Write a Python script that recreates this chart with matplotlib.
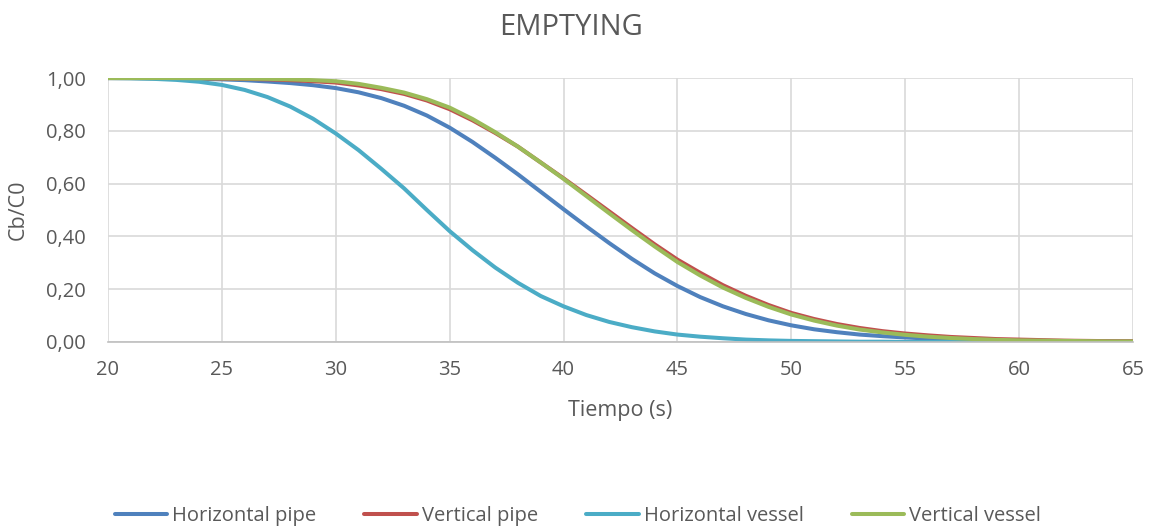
import numpy as np
import matplotlib.pyplot as plt
from matplotlib.ticker import FuncFormatter

# Cb/C0 vs time
tiempo = list(range(20, 66))

horizontal_pipe = [1.0, 1.0, 0.999, 0.998, 0.997, 0.995, 0.992, 0.987, 0.981, 0.973,
                   0.962, 0.946, 0.924, 0.895, 0.858, 0.812, 0.758, 0.698, 0.635, 0.569,
                   0.503, 0.438, 0.375, 0.315, 0.26, 0.212, 0.17, 0.135, 0.106, 0.082,
                   0.063, 0.048, 0.037, 0.028, 0.022, 0.017, 0.013, 0.01, 0.008, 0.006,
                   0.005, 0.004, 0.003, 0.002, 0.002, 0.001]

vertical_pipe = [1.0, 1.0, 1.0, 0.999, 0.999, 0.998, 0.997, 0.995, 0.992, 0.988,
                 0.983, 0.972, 0.958, 0.94, 0.915, 0.882, 0.84, 0.792, 0.74, 0.68,
                 0.62, 0.558, 0.495, 0.432, 0.37, 0.312, 0.262, 0.215, 0.175, 0.14,
                 0.11, 0.087, 0.068, 0.053, 0.041, 0.032, 0.025, 0.019, 0.015, 0.011,
                 0.009, 0.007, 0.005, 0.004, 0.003, 0.003]

horizontal_vessel = [1.0, 0.999, 0.997, 0.993, 0.986, 0.974, 0.955, 0.928, 0.892, 0.846,
                     0.79, 0.727, 0.656, 0.582, 0.50, 0.42, 0.348, 0.282, 0.224, 0.174,
                     0.135, 0.102, 0.076, 0.056, 0.04, 0.028, 0.02, 0.014, 0.009, 0.006,
                     0.004, 0.003, 0.002, 0.001, 0.001, 0.0, 0.0, 0.0, 0.0, 0.0,
                     0.0, 0.0, 0.0, 0.0, 0.0, 0.0]

vertical_vessel = [1.0, 1.0, 1.0, 1.0, 0.999, 0.999, 0.998, 0.997, 0.995, 0.992,
                   0.988, 0.978, 0.963, 0.945, 0.92, 0.888, 0.845, 0.795, 0.74, 0.68,
                   0.618, 0.553, 0.488, 0.424, 0.362, 0.303, 0.252, 0.206, 0.167, 0.133,
                   0.104, 0.081, 0.062, 0.047, 0.036, 0.027, 0.02, 0.015, 0.011, 0.008,
                   0.006, 0.005, 0.004, 0.003, 0.002, 0.002]

series = [
    ("Horizontal pipe", horizontal_pipe, "#4F81BD"),
    ("Vertical pipe", vertical_pipe, "#C0504D"),
    ("Horizontal vessel", horizontal_vessel, "#4BACC6"),
    ("Vertical vessel", vertical_vessel, "#9BBB59"),
]

plt.rcParams['font.family'] = ['Open Sans', 'DejaVu Sans']
text_col = "#595959"

fig = plt.figure(figsize=(11.51, 5.31), dpi=100)
ax = fig.add_axes([0.0938, 0.356, 0.8906, 0.497])

for name, vals, col in series:
    ax.plot(tiempo, vals, color=col, linewidth=2.9, label=name, solid_capstyle='round')

ax.set_xlim(20, 65)
ax.set_ylim(0, 1.0)
ax.set_xticks(np.arange(20, 66, 5))
ax.set_yticks(np.arange(0, 1.01, 0.2))
ax.yaxis.set_major_formatter(FuncFormatter(lambda v, p: f"{v:.2f}".replace(".", ",")))
ax.grid(True, color="#D9D9D9", linewidth=1.2)
ax.set_axisbelow(True)
for s in ["top", "right", "left"]:
    ax.spines[s].set_visible(False)
ax.spines["bottom"].set_color("#BFBFBF")
ax.spines["bottom"].set_linewidth(1.2)
ax.tick_params(length=0, labelsize=14.5, colors=text_col)
ax.tick_params(axis="x", pad=13)
ax.tick_params(axis="y", pad=16)

ax.text(0.5, -69 / 264, "Tiempo (s)", transform=ax.transAxes, ha="center", va="center",
        fontsize=15.5, color=text_col)
ax.text(-90 / 1025, 0.5, "Cb/C0", transform=ax.transAxes, ha="center", va="center",
        rotation=90, fontsize=15.5, color=text_col)
fig.text(0.496, 0.948, "EMPTYING", ha="center", va="center", fontsize=21, color=text_col)

fig.legend(loc="center", bbox_to_anchor=(0.502, 0.028), ncol=4, frameon=False,
           fontsize=14.5, handlelength=2.6, columnspacing=2.4, handletextpad=0.25,
           labelcolor=text_col)

fig.savefig("out.png", dpi=100)
